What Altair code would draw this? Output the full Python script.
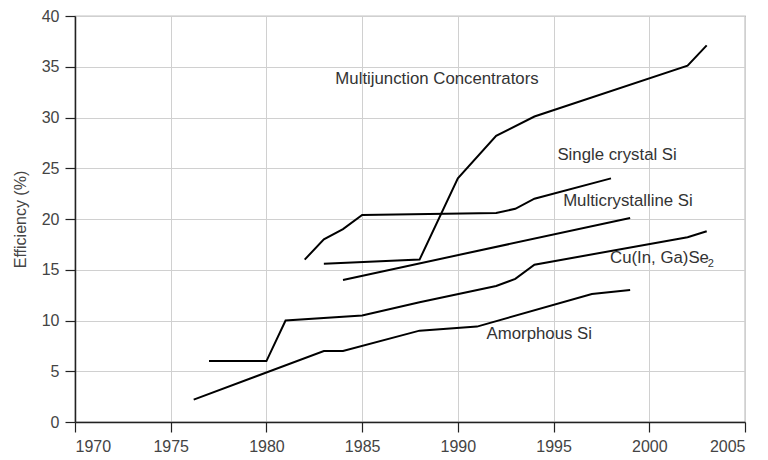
import altair as alt
import pandas as pd

# Series data (year, efficiency %)
mj_years = [1983, 1988, 1990, 1992, 1994, 2002, 2003]
mj_eff = [15.6, 16.0, 24.0, 28.2, 30.1, 35.1, 37.1]

sc_years = [1982, 1983, 1984, 1985, 1992, 1993, 1994, 1998]
sc_eff = [16.0, 18.0, 19.0, 20.4, 20.6, 21.0, 22.0, 24.0]

mc_years = [1984, 1999]
mc_eff = [14.0, 20.1]

cigs_years = [1977, 1980, 1981, 1985, 1988, 1992, 1993, 1994, 2002, 2003]
cigs_eff = [6.0, 6.0, 10.0, 10.5, 11.8, 13.4, 14.1, 15.5, 18.2, 18.8]

am_years = [1976.2, 1983, 1984, 1988, 1991, 1997, 1999]
am_eff = [2.2, 7.0, 7.0, 9.0, 9.4, 12.6, 13.0]

series_names = ["Multijunction Concentrators", "Single crystal Si",
                "Multicrystalline Si", "Cu(In, Ga)Se2", "Amorphous Si"]
series_x = [mj_years, sc_years, mc_years, cigs_years, am_years]
series_y = [mj_eff, sc_eff, mc_eff, cigs_eff, am_eff]

label_text = ["Multijunction Concentrators", "Single crystal Si",
              "Multicrystalline Si", "Cu(In, Ga)Se", "Amorphous Si"]
label_x = [1983.6, 1995.2, 1995.5, 1997.95, 1991.5]
label_y = [33.75, 26.3, 21.8, 16.2, 8.7]

sub_text = ["2"]
sub_x = [2003.05]
sub_y = [15.55]

x_ticks = [1970, 1975, 1980, 1985, 1990, 1995, 2000, 2005]
y_ticks = [0, 5, 10, 15, 20, 25, 30, 35, 40]

rows = []
for name, xs, ys in zip(series_names, series_x, series_y):
    for i, (xv, yv) in enumerate(zip(xs, ys)):
        rows.append({"series": name, "year": xv, "eff": yv, "order": i})
df = pd.DataFrame(rows)

labels_df = pd.DataFrame({"text": label_text, "year": label_x, "eff": label_y})
sub_df = pd.DataFrame({"text": sub_text, "year": sub_x, "eff": sub_y})

x_scale = alt.Scale(domain=[1970, 2005], nice=False, zero=False)
y_scale = alt.Scale(domain=[0, 40], nice=False)

FONT = "Liberation Sans"

lines = alt.Chart(df).mark_line(color="black", strokeWidth=2).encode(
    x=alt.X("year:Q", scale=x_scale,
            axis=alt.Axis(values=x_ticks, format="d", title=None,
                          grid=True, gridColor="#d0d0d0", gridWidth=1,
                          domainColor="#222", domainWidth=1.5,
                          tickColor="#222", tickSize=10, tickWidth=1.2,
                          labelFontSize=16, labelColor="#444",
                          labelFont=FONT, labelPadding=6)),
    y=alt.Y("eff:Q", scale=y_scale,
            axis=alt.Axis(values=y_ticks, title="Efficiency (%)",
                          grid=True, gridColor="#d0d0d0", gridWidth=1,
                          domainColor="#222", domainWidth=1.5,
                          tickColor="#222", tickSize=10, tickWidth=1.2,
                          labelFontSize=16, labelColor="#444",
                          labelFont=FONT, labelPadding=6,
                          titleFontSize=16, titleFontWeight="normal",
                          titleColor="#444", titleFont=FONT,
                          titleX=-55, titleY=203, titleBaseline="middle")),
    detail="series:N",
    order="order:Q",
)

labels = alt.Chart(labels_df).mark_text(
    align="left", baseline="middle", fontSize=16.8, color="#333", font=FONT
).encode(
    x=alt.X("year:Q", scale=x_scale),
    y=alt.Y("eff:Q", scale=y_scale),
    text="text:N",
)

sub = alt.Chart(sub_df).mark_text(
    align="left", baseline="middle", fontSize=11, color="#333", font=FONT
).encode(
    x=alt.X("year:Q", scale=x_scale),
    y=alt.Y("eff:Q", scale=y_scale),
    text="text:N",
)

chart = alt.layer(lines, labels, sub).properties(
    width=670, height=406,
    autosize=alt.AutoSizeParams(type="none"),
    padding={"left": 67, "top": 8, "right": 10, "bottom": 36},
).configure_view(stroke="#888", strokeWidth=1.2)

chart.save("out.html", embed_options={"renderer": "svg", "actions": False})
